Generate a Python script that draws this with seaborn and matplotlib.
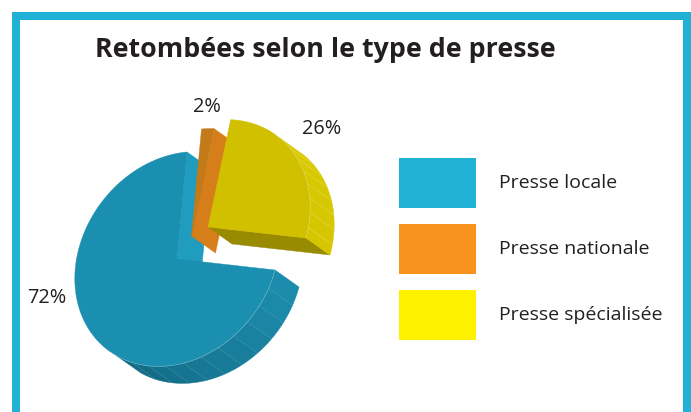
import numpy as np
import matplotlib
matplotlib.use("Agg")
import matplotlib.pyplot as plt
from matplotlib.patches import Polygon, Rectangle
import seaborn as sns

# Chart content
title = "Retombées selon le type de presse"
categories = ["Presse locale", "Presse nationale", "Presse spécialisée"]
shares = [72, 2, 26]
swatch_colors = ["#21B0D6", "#F7931E", "#FFF200"]

sns.set_theme(style="white")
plt.rcParams["font.family"] = ["Open Sans", "DejaVu Sans"]

fig, ax = plt.subplots(figsize=(6.91, 4.12), dpi=100)
fig.subplots_adjust(0, 0, 1, 1)
ax.set_xlim(0, 691)
ax.set_ylim(412, 0)
ax.axis("off")

# Page frame, open at the bottom edge
for x, y, w, h in [(12, 12, 679, 8), (12, 12, 8, 400), (683, 12, 8, 400)]:
    ax.add_patch(Rectangle((x, y), w, h, fc="#21B0D6", ec="none"))

ax.text(325, 50, title, ha="center", va="center", fontsize=19.3, fontweight="bold", color="#231F20")

# Projection of the tilted pie: screen vectors for the 12 o'clock and 3 o'clock radii
AXIS_UP = np.array([10.0, -107.0])
AXIS_RIGHT = np.array([101.7, -9.2])
DEPTH = np.array([24.0, 17.0])


def project(deg):
    t = np.radians(deg)
    return np.outer(np.cos(t), AXIS_UP) + np.outer(np.sin(t), AXIS_RIGHT)


def rim_visible(deg):
    t = np.radians(deg)
    tx = -np.sin(t) * AXIS_UP[0] + np.cos(t) * AXIS_RIGHT[0]
    ty = -np.sin(t) * AXIS_UP[1] + np.cos(t) * AXIS_RIGHT[1]
    return tx * DEPTH[1] - ty * DEPTH[0] < 0


def draw_slice(apex, start, stop, top, rim_from, rim_to, step, side_b=None, seam_alpha=0.08):
    apex = np.asarray(apex, float)
    # side face behind the wall
    if side_b is not None:
        p = apex + project(np.array([stop]))[0]
        ax.add_patch(Polygon([apex, p, p + DEPTH, apex + DEPTH], fc=side_b, ec=side_b, lw=0.3))
    # outer wall, built from shaded facets
    edges = np.arange(start, stop + step * 0.5, step)
    edges[-1] = stop
    pairs = [(a, b) for a, b in zip(edges[:-1], edges[1:]) if rim_visible((a + b) / 2)]
    shades = sns.blend_palette([rim_from, rim_to], max(len(pairs), 2))
    for (a, b), c in zip(pairs, shades):
        arc = apex + project(np.linspace(a, b, 8))
        ax.add_patch(Polygon(np.vstack([arc, (arc + DEPTH)[::-1]]), fc=c, ec=c, lw=0.3))
        seam = apex + project(np.array([b]))[0]
        if start < b < stop:
            ax.plot(*np.array([seam, seam + DEPTH]).T, color="white", alpha=seam_alpha, lw=0.5)
    # top surface and the light edge where it meets the wall
    sweep = np.linspace(start, stop, 160)
    arc = apex + project(sweep)
    ax.add_patch(Polygon(np.vstack([apex, arc]), fc=top, ec=top, lw=0.3))
    mask = rim_visible(sweep)
    if mask.any():
        ax.plot(*arc[mask].T, color="white", alpha=0.3, lw=0.5)


# Sweep of each slice, clockwise from the 12 o'clock radius
degrees = [s * 3.6 for s in shares]
orange_stop = degrees[1]
yellow_stop = orange_stop + degrees[2]
blue_stop = yellow_stop + degrees[0]

draw_slice((177, 259), yellow_stop, blue_stop, "#1B8FB0", "#1C8CAC", "#126A85", 10,
           side_b="#1F9CBE")
draw_slice((191.5, 236), 0, orange_stop, "#C47A18", "#C47A18", "#C47A18", 7.2,
           side_b="#D67F1A")
draw_slice((208, 227), orange_stop, yellow_stop, "#D0C000", "#D9C900", "#D6C600", 8,
           side_b="#998B00", seam_alpha=0.2)

# Percentage labels
for text, x, y in zip([f"{v}%" for v in shares], (47, 207, 322), (298, 107, 129)):
    ax.text(x, y, text, ha="center", va="center", fontsize=14.3, color="#231F20")

# Legend
for i, (name, color) in enumerate(zip(categories, swatch_colors)):
    y = 158 + i * 66
    ax.add_patch(Rectangle((399, y), 77, 50, fc=color, ec="none"))
    ax.text(499, y + 24.5, name, ha="left", va="center", fontsize=14, color="#231F20")

fig.savefig("out.png", dpi=100)
